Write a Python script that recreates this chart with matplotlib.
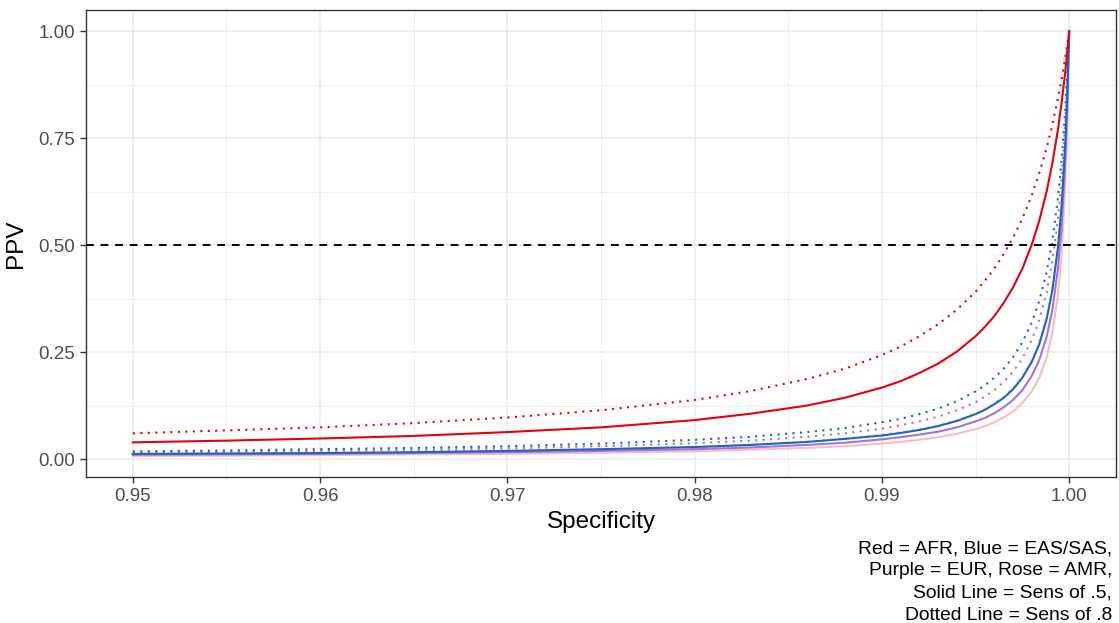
import matplotlib.pyplot as plt
from matplotlib.ticker import MultipleLocator

# specificity values at which PPV was evaluated
specificity = [0.950, 0.955, 0.960, 0.965, 0.970, 0.975, 0.980, 0.983, 0.986, 0.988,
               0.990, 0.991, 0.992, 0.993, 0.994, 0.995, 0.9955, 0.996, 0.9965, 0.997,
               0.9975, 0.998, 0.9984, 0.9988, 0.9991, 0.9994, 0.9996, 0.9998, 0.9999, 1.000]

# PPV per population, sensitivity .5 (solid) and .8 (dotted)
afr_sens5 = [0.039, 0.043, 0.048, 0.054, 0.063, 0.074, 0.091, 0.106, 0.125, 0.143, 0.167, 0.182, 0.201, 0.223, 0.251,
             0.287, 0.309, 0.334, 0.365, 0.401, 0.445, 0.501, 0.557, 0.626, 0.691, 0.770, 0.834, 0.909, 0.953, 1.000]
afr_sens8 = [0.060, 0.067, 0.074, 0.084, 0.097, 0.114, 0.138, 0.159, 0.187, 0.211, 0.243, 0.263, 0.287, 0.315, 0.349,
             0.391, 0.417, 0.445, 0.479, 0.517, 0.562, 0.616, 0.668, 0.728, 0.781, 0.843, 0.889, 0.941, 0.970, 1.000]
eas_sens5 = [0.012, 0.013, 0.014, 0.016, 0.019, 0.023, 0.028, 0.033, 0.040, 0.047, 0.055, 0.061, 0.068, 0.077, 0.089,
             0.105, 0.115, 0.128, 0.143, 0.163, 0.190, 0.227, 0.268, 0.328, 0.394, 0.494, 0.594, 0.745, 0.854, 1.000]
eas_sens8 = [0.018, 0.020, 0.023, 0.026, 0.030, 0.036, 0.045, 0.052, 0.063, 0.072, 0.086, 0.094, 0.105, 0.118, 0.135,
             0.158, 0.172, 0.190, 0.211, 0.238, 0.273, 0.319, 0.369, 0.438, 0.510, 0.610, 0.701, 0.824, 0.904, 1.000]
eur_sens5 = [0.010, 0.011, 0.012, 0.014, 0.016, 0.019, 0.023, 0.027, 0.033, 0.038, 0.046, 0.051, 0.057, 0.064, 0.074,
             0.088, 0.096, 0.107, 0.121, 0.138, 0.161, 0.194, 0.231, 0.286, 0.348, 0.445, 0.546, 0.706, 0.828, 1.000]
eur_sens8 = [0.015, 0.017, 0.019, 0.021, 0.025, 0.030, 0.037, 0.043, 0.052, 0.060, 0.071, 0.079, 0.088, 0.099, 0.114,
             0.133, 0.146, 0.161, 0.180, 0.204, 0.235, 0.278, 0.325, 0.390, 0.461, 0.562, 0.658, 0.794, 0.885, 1.000]
amr_sens5 = [0.007, 0.008, 0.009, 0.011, 0.012, 0.015, 0.018, 0.022, 0.026, 0.030, 0.036, 0.040, 0.045, 0.051, 0.059,
             0.070, 0.077, 0.086, 0.097, 0.111, 0.131, 0.158, 0.190, 0.238, 0.294, 0.385, 0.484, 0.652, 0.790, 1.000]
amr_sens8 = [0.012, 0.013, 0.015, 0.017, 0.020, 0.023, 0.029, 0.034, 0.041, 0.048, 0.057, 0.063, 0.070, 0.079, 0.091,
             0.107, 0.118, 0.131, 0.146, 0.167, 0.194, 0.231, 0.273, 0.334, 0.400, 0.500, 0.600, 0.750, 0.857, 1.000]

x_ticks = [0.95, 0.96, 0.97, 0.98, 0.99, 1.00]
x_ticklabels = ["0.95", "0.96", "0.97", "0.98", "0.99", "1.00"]
y_ticks = [0.00, 0.25, 0.50, 0.75, 1.00]
y_ticklabels = ["0.00", "0.25", "0.50", "0.75", "1.00"]

red = "#E6000F"
blue = "#1B64C2"
purple = "#A373D6"
rose = "#FABCBE"

plt.rcParams["font.family"] = ["Liberation Sans", "DejaVu Sans"]

fig = plt.figure(figsize=(11.19, 6.23), dpi=100)
ax = fig.add_axes([86 / 1119, 1 - 477 / 623, 1030 / 1119, 467 / 623])

dot = (0, (1, 2.6))
lw = 1.5
ax.plot(specificity, amr_sens5, color=rose, lw=lw, zorder=3)
ax.plot(specificity, amr_sens8, color=rose, lw=lw, ls=dot, zorder=3)
ax.plot(specificity, eur_sens5, color=purple, lw=lw, zorder=3)
ax.plot(specificity, eur_sens8, color=purple, lw=lw, ls=dot, zorder=3)
ax.plot(specificity, eas_sens5, color=blue, lw=lw, zorder=3)
ax.plot(specificity, eas_sens8, color=blue, lw=lw, ls=dot, zorder=3)
ax.plot(specificity, afr_sens5, color=red, lw=lw, zorder=3)
ax.plot(specificity, afr_sens8, color=red, lw=lw, ls=dot, zorder=3)

ax.axhline(0.5, color="black", lw=1.4, ls=(0, (4, 3.5)), zorder=4)

ax.set_xlim(0.9475, 1.0025)
ax.set_ylim(-0.042, 1.0496)
ax.set_xticks(x_ticks)
ax.set_xticklabels(x_ticklabels)
ax.set_yticks(y_ticks)
ax.set_yticklabels(y_ticklabels)
ax.xaxis.set_minor_locator(MultipleLocator(0.005))
ax.yaxis.set_minor_locator(MultipleLocator(0.125))

ax.grid(True, which="major", color="#EBEBEB", lw=1.1, zorder=0)
ax.grid(True, which="minor", color="#EBEBEB", lw=0.6, zorder=0)
ax.set_axisbelow(True)
ax.tick_params(which="minor", length=0)
ax.tick_params(which="major", length=4, width=1, color="#333333",
               labelcolor="#4D4D4D", labelsize=13.5, pad=4)
for sp in ax.spines.values():
    sp.set_color("#333333")
    sp.set_linewidth(1.0)

ax.set_xlabel("Specificity", fontsize=17.5, labelpad=4)
ax.set_ylabel("PPV", fontsize=17.5, labelpad=8)

fig.text(1112 / 1119, 1 - 540 / 623,
         "Red = AFR, Blue = EAS/SAS,\nPurple = EUR, Rose = AMR,\nSolid Line = Sens of .5,\nDotted Line = Sens of .8",
         ha="right", va="top", multialignment="right", fontsize=13.9, linespacing=1.41)

fig.savefig("out.png", dpi=100)
